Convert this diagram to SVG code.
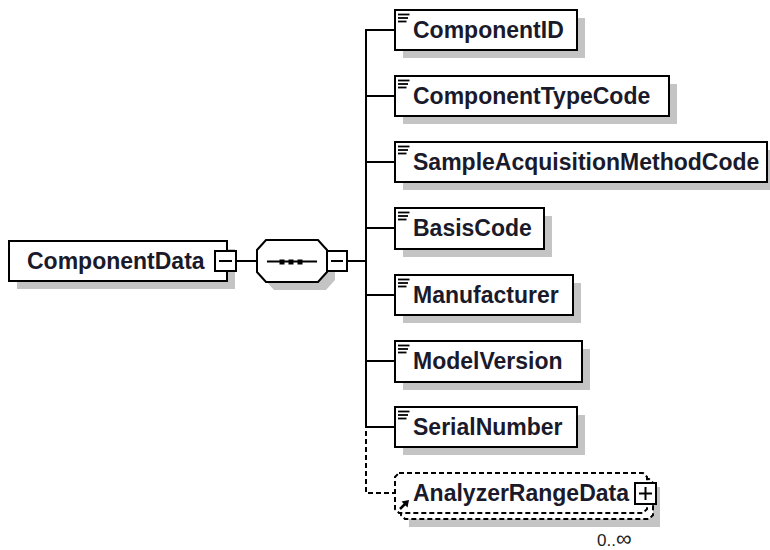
<svg xmlns="http://www.w3.org/2000/svg" width="770" height="550" viewBox="0 0 770 550">
<style>
.box{fill:#fff;stroke:#000;stroke-width:2}
.sh{fill:#c4c4c4}
.t{font-family:"Liberation Sans",Arial,sans-serif;font-weight:bold;font-size:23px;fill:#1a1a2a}
.ln{stroke:#000;stroke-width:2;fill:none}
.dash{stroke-dasharray:5,3}
.ic{stroke:#000;stroke-width:1.8}
.occ{font-family:"Liberation Sans",Arial,sans-serif;font-size:17px;fill:#222}
</style>
<defs>
<g id="icon">
<line class="ic" x1="3" y1="4.5" x2="14.5" y2="4.5"/>
<line class="ic" x1="3" y1="8" x2="13" y2="8"/>
<line class="ic" x1="3" y1="11.5" x2="11.5" y2="11.5"/>
</g>
</defs>
<rect width="770" height="550" fill="#fff"/>

<g id="connectors">
<line class="ln" x1="236" y1="261" x2="257" y2="261"/>
<line class="ln" x1="347" y1="261" x2="366" y2="261"/>
<line class="ln" x1="366" y1="29" x2="366" y2="428"/>
<line class="ln" x1="365" y1="30" x2="395" y2="30"/>
<line class="ln" x1="366" y1="96" x2="395" y2="96"/>
<line class="ln" x1="366" y1="162" x2="395" y2="162"/>
<line class="ln" x1="366" y1="228" x2="395" y2="228"/>
<line class="ln" x1="366" y1="295" x2="395" y2="295"/>
<line class="ln" x1="366" y1="361" x2="395" y2="361"/>
<line class="ln" x1="365" y1="427" x2="395" y2="427"/>
<path class="ln dash" d="M366,431 V493 H395"/>
</g>

<g id="ComponentData">
<rect class="sh" x="17" y="249" width="218" height="40"/>
<rect class="box" x="9" y="241" width="218" height="40"/>
<text class="t" x="27" y="269">ComponentData</text>
<rect class="box" x="215" y="251" width="21" height="20"/>
<line class="ln" x1="219" y1="261" x2="232" y2="261"/>
</g>

<g id="sequence">
<polygon class="sh" points="274,248 326,248 335,258 335,280 326,290 274,290 265,280 265,258"/>
<polygon class="box" points="266,240 318,240 327,250 327,272 318,282 266,282 257,272 257,250"/>
<line class="ln" x1="267" y1="261.5" x2="317" y2="261.5"/>
<rect x="279.5" y="259.5" width="5" height="5" fill="#000"/>
<rect x="288.5" y="259.5" width="5" height="5" fill="#000"/>
<rect x="297.5" y="259.5" width="5" height="5" fill="#000"/>
<rect class="box" x="327" y="251" width="20" height="20"/>
<line class="ln" x1="331" y1="261" x2="343" y2="261"/>
</g>

<g id="ComponentID">
<rect class="sh" x="403" y="18" width="182" height="40"/>
<rect class="box" x="395" y="10" width="182" height="40"/>
<use href="#icon" x="395" y="10"/>
<text class="t" x="413" y="38">ComponentID</text>
</g>

<g id="ComponentTypeCode">
<rect class="sh" x="403" y="84" width="274" height="40"/>
<rect class="box" x="395" y="76" width="274" height="40"/>
<use href="#icon" x="395" y="76"/>
<text class="t" x="413" y="104">ComponentTypeCode</text>
</g>

<g id="SampleAcquisitionMethodCode">
<rect class="sh" x="403" y="150" width="372" height="40"/>
<rect class="box" x="395" y="142" width="372" height="40"/>
<use href="#icon" x="395" y="142"/>
<text class="t" x="413" y="170">SampleAcquisitionMethodCode</text>
</g>

<g id="BasisCode">
<rect class="sh" x="403" y="216" width="149" height="41"/>
<rect class="box" x="395" y="208" width="149" height="41"/>
<use href="#icon" x="395" y="208"/>
<text class="t" x="413" y="236">BasisCode</text>
</g>

<g id="Manufacturer">
<rect class="sh" x="403" y="283" width="178" height="40"/>
<rect class="box" x="395" y="275" width="178" height="40"/>
<use href="#icon" x="395" y="275"/>
<text class="t" x="413" y="303">Manufacturer</text>
</g>

<g id="ModelVersion">
<rect class="sh" x="403" y="349" width="187" height="41"/>
<rect class="box" x="395" y="341" width="187" height="41"/>
<use href="#icon" x="395" y="341"/>
<text class="t" x="413" y="369">ModelVersion</text>
</g>

<g id="SerialNumber">
<rect class="sh" x="403" y="415" width="182" height="40"/>
<rect class="box" x="395" y="407" width="182" height="40"/>
<use href="#icon" x="395" y="407"/>
<text class="t" x="413" y="435">SerialNumber</text>
</g>

<g id="AnalyzerRangeData">
<rect class="sh" x="409" y="487" width="251" height="40"/>
<polygon class="box dash" points="405,479 649,479 653,483 653,515 649,519 405,519 401,515 401,483"/>
<polygon class="box dash" points="399,473 643,473 647,477 647,509 643,513 399,513 395,509 395,477"/>
<text class="t" x="413" y="501">AnalyzerRangeData</text>
<rect class="box" x="635" y="483" width="21" height="21"/>
<line class="ln" x1="639" y1="493.5" x2="652" y2="493.5"/>
<line class="ln" x1="645.5" y1="487" x2="645.5" y2="500"/>
<line x1="400" y1="509" x2="405" y2="504" stroke="#000" stroke-width="2.5"/>
<polygon points="409,500 401.5,501.5 407.5,507.5" fill="#000"/>
<text class="occ" x="597" y="546">0..<tspan font-size="22">∞</tspan></text>
</g>
</svg>
